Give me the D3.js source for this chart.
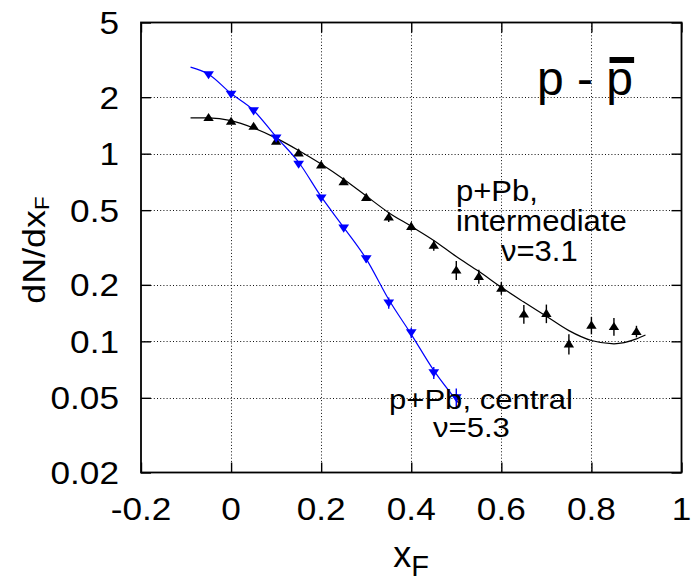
<!DOCTYPE html>
<html>
<head>
<meta charset="utf-8">
<script src="https://cdn.jsdelivr.net/npm/d3@7"></script>
<style>
html,body{margin:0;padding:0;background:#fff;}
svg{display:block;}
text{font-family:"Liberation Sans",Arial,Helvetica,sans-serif;fill:#000;}
</style>
</head>
<body>
<svg id="chart" width="692" height="582"></svg>
<script>
// ---- data ----
const xTicks = [-0.2, 0, 0.2, 0.4, 0.6, 0.8, 1];
const xTickLabels = ["-0.2", "0", "0.2", "0.4", "0.6", "0.8", "1"];
const yTicks = [5, 2, 1, 0.5, 0.2, 0.1, 0.05, 0.02];
const yTickLabels = ["5", "2", "1", "0.5", "0.2", "0.1", "0.05", "0.02"];

// p+Pb intermediate (black, up triangles)
const xInter = [-0.05, 0, 0.05, 0.1, 0.15, 0.2, 0.25, 0.3, 0.35, 0.4, 0.45, 0.5, 0.55, 0.6, 0.65, 0.7, 0.75, 0.8, 0.85, 0.9];
const yInter = [1.56, 1.49, 1.40, 1.165, 1.01, 0.87, 0.71, 0.585, 0.46, 0.41, 0.325, 0.24, 0.222, 0.192, 0.14, 0.141, 0.097, 0.122, 0.12, 0.113];
const eInter = [0.04, 0.04, 0.035, 0.03, 0.025, 0.02, 0.018, 0.016, 0.028, 0.02, 0.021, 0.028, 0.019, 0.015, 0.016, 0.016, 0.012, 0.013, 0.013, 0.008];

// p+Pb central (blue, down triangles)
const xCentral = [-0.05, 0, 0.05, 0.1, 0.15, 0.2, 0.25, 0.3, 0.35, 0.4, 0.45, 0.5];
const yCentral = [2.63, 2.07, 1.69, 1.21, 0.878, 0.58, 0.401, 0.275, 0.16, 0.111, 0.068, 0.050];
const eCentral = [0.05, 0.04, 0.03, 0.02, 0.015, 0.01, 0.008, 0.012, 0.011, 0.007, 0.005, 0.006];

// fit curves
const xFitInter = [-0.09, -0.05, 0, 0.05, 0.1, 0.15, 0.2, 0.25, 0.3, 0.35, 0.4, 0.45, 0.5, 0.55, 0.6, 0.65, 0.7, 0.75, 0.8, 0.85, 0.9, 0.92];
const yFitInter = [1.55, 1.55, 1.50, 1.37, 1.21, 1.04, 0.88, 0.73, 0.595, 0.485, 0.41, 0.345, 0.283, 0.236, 0.194, 0.162, 0.136, 0.114, 0.101, 0.097, 0.103, 0.108];
const xFitCentral = [-0.09, -0.05, 0, 0.05, 0.1, 0.15, 0.2, 0.25, 0.3, 0.35, 0.4, 0.45, 0.505];
const yFitCentral = [2.89, 2.65, 2.09, 1.70, 1.23, 0.90, 0.59, 0.405, 0.275, 0.167, 0.109, 0.070, 0.047];

// ---- layout ----
const W = 692, H = 582;
const L = 141, R = 681.5, T = 22.5, B = 472.5;
const FONT = '"Liberation Sans",Arial,Helvetica,sans-serif';

const svg = d3.select("#chart");
const x = d3.scaleLinear().domain([-0.2, 1]).range([L, R]);
const y = d3.scaleLog().domain([0.02, 5]).range([B, T]);

// grid
const grid = svg.append("g").attr("stroke", "#111").attr("stroke-width", 1).attr("stroke-dasharray", "1,2.2");
grid.selectAll("line.gx").data(xTicks.slice(1, -1)).enter().append("line")
  .attr("x1", d => Math.round(x(d)) + 0.5).attr("x2", d => Math.round(x(d)) + 0.5)
  .attr("y1", T).attr("y2", B);
grid.selectAll("line.gy").data(yTicks.slice(1, -1)).enter().append("line")
  .attr("y1", d => Math.round(y(d)) + 0.5).attr("y2", d => Math.round(y(d)) + 0.5)
  .attr("x1", L).attr("x2", R);

// axes (ticks inward on all sides)
const tickLen = 10;
const axB = svg.append("g").attr("transform", `translate(0,${B})`)
  .call(d3.axisBottom(x).tickValues(xTicks).tickSize(-tickLen).tickFormat(""));
const axT = svg.append("g").attr("transform", `translate(0,${T})`)
  .call(d3.axisTop(x).tickValues(xTicks).tickSize(-tickLen).tickFormat(""));
const axL = svg.append("g").attr("transform", `translate(${L},0)`)
  .call(d3.axisLeft(y).tickValues(yTicks).tickSize(-tickLen).tickFormat(""));
const axR = svg.append("g").attr("transform", `translate(${R},0)`)
  .call(d3.axisRight(y).tickValues(yTicks).tickSize(-tickLen).tickFormat(""));
[axB, axT, axL, axR].forEach(g => {
  g.select(".domain").remove();
  g.selectAll(".tick line").attr("stroke", "#000").attr("stroke-width", 1.4);
});
svg.append("rect").attr("x", L).attr("y", T).attr("width", R - L).attr("height", B - T)
  .attr("fill", "none").attr("stroke", "#000").attr("stroke-width", 1.8);

// tick labels
svg.append("g").selectAll("text").data(xTicks).enter().append("text")
  .attr("transform", d => `translate(${x(d)},520) scale(1.1,1)`)
  .attr("text-anchor", "middle").attr("font-size", 32)
  .text((d, i) => xTickLabels[i]);
svg.append("g").selectAll("text").data(yTicks).enter().append("text")
  .attr("transform", d => `translate(119,${y(d)}) scale(1.1,1)`)
  .attr("text-anchor", "end").attr("dy", "0.36em").attr("font-size", 32)
  .text((d, i) => yTickLabels[i]);

// axis titles
const xt = svg.append("text").attr("x", 411).attr("y", 567).attr("text-anchor", "middle").attr("font-size", 36);
xt.append("tspan").text("x");
xt.append("tspan").attr("font-size", 29).attr("dy", 9).text("F");

const yt = svg.append("text").attr("transform", "translate(45,250) rotate(-90) scale(1.12,1)")
  .attr("text-anchor", "middle").attr("font-size", 32);
yt.append("tspan").text("dN/dx");
yt.append("tspan").attr("font-size", 20).attr("dy", 4).text("F");

// curves
const lineGen = d3.line().x(d => x(d[0])).y(d => y(d[1])).curve(d3.curveMonotoneX);
svg.append("path").datum(d3.zip(xFitInter, yFitInter)).attr("d", lineGen)
  .attr("fill", "none").attr("stroke", "#000").attr("stroke-width", 1.2);
svg.append("path").datum(d3.zip(xFitCentral, yFitCentral)).attr("d", lineGen)
  .attr("fill", "none").attr("stroke", "#0000ff").attr("stroke-width", 1.2);

// error bars + markers
function drawSeries(xs, ys, es, color, up) {
  const g = svg.append("g");
  const pts = xs.map((v, i) => ({ x: v, y: ys[i], e: es[i] }));
  g.selectAll("line").data(pts).enter().append("line")
    .attr("x1", d => x(d.x)).attr("x2", d => x(d.x))
    .attr("y1", d => y(d.y + d.e)).attr("y2", d => y(Math.max(d.y - d.e, 0.021)))
    .attr("stroke", color).attr("stroke-width", 1.4);
  const tri = up ? "M0,-4.5L5.2,3.6L-5.2,3.6Z" : "M0,4.5L5.4,-3.6L-5.4,-3.6Z";
  g.selectAll("path").data(pts).enter().append("path")
    .attr("d", tri)
    .attr("transform", d => `translate(${x(d.x)},${y(d.y)})`)
    .attr("fill", color);
}
drawSeries(xInter, yInter, eInter, "#000", true);
drawSeries(xCentral, yCentral, eCentral, "#0000ff", false);

// annotations
function label(txt, tx, ty, size, sx) {
  svg.append("text").attr("transform", `translate(${tx},${ty}) scale(${sx},1)`)
    .attr("font-size", size).text(txt);
}
label("p+Pb,", 456, 201, 29, 1.07);
label("intermediate", 456, 231, 29, 1.07);
label("\u03BD=3.1", 501, 261, 29, 1.07);
label("p+Pb, central", 389, 409, 28.5, 1.09);
label("\u03BD=5.3", 433, 437, 28.5, 1.09);

// p - p̄
const pp = svg.append("text").attr("x", 537).attr("y", 95).attr("font-size", 48).attr("font-family", FONT).text("p - p");
const node = pp.node();
const n = node.getNumberOfChars();
const ext = node.getExtentOfChar(n - 1);
svg.append("rect").attr("x", ext.x + 0.12 * ext.width).attr("y", 57)
  .attr("width", ext.width * 0.92).attr("height", 6).attr("fill", "#000");
</script>
</body>
</html>
